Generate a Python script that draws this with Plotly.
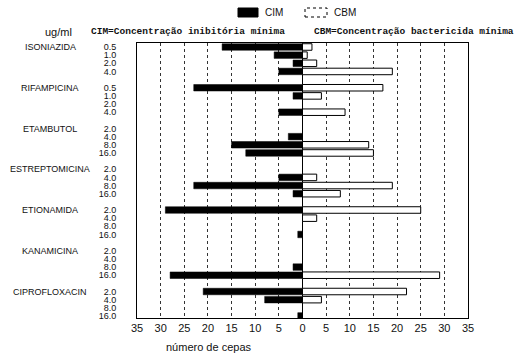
import plotly.graph_objects as go

drugs = ["ISONIAZIDA", "RIFAMPICINA", "ETAMBUTOL", "ESTREPTOMICINA",
         "ETIONAMIDA", "KANAMICINA", "CIPROFLOXACIN"]
concentrations = [
    ["0.5", "1.0", "2.0", "4.0"],
    ["0.5", "1.0", "2.0", "4.0"],
    ["2.0", "4.0", "8.0", "16.0"],
    ["2.0", "4.0", "8.0", "16.0"],
    ["2.0", "4.0", "8.0", "16.0"],
    ["2.0", "4.0", "8.0", "16.0"],
    ["2.0", "4.0", "8.0", "16.0"],
]
cim = [17, 6, 2, 5,
       23, 2, 0, 5,
       0, 3, 15, 12,
       0, 5, 23, 2,
       29, 0, 0, 1,
       0, 0, 2, 28,
       21, 8, 0, 1]
cbm = [2, 1, 3, 19,
       17, 4, 0, 9,
       0, 0, 14, 15,
       0, 3, 19, 8,
       25, 3, 0, 0,
       0, 0, 0, 29,
       22, 4, 0, 0]
x_ticks = [-35, -30, -25, -20, -15, -10, -5, 0, 5, 10, 15, 20, 25, 30, 35]

# layout geometry (pixels)
W, H = 522, 356
L, R, T, B = 137, 54, 43, 38
pw, ph = W - L - R, H - T - B


def px(x):
    return (x - L) / pw


def py(y):
    return (H - B - y) / ph


ypos = []
ylabels = []
for g, concs in enumerate(concentrations):
    for r, c in enumerate(concs):
        ypos.append(g * 5 + r)
        ylabels.append(c)

fig = go.Figure()
fig.add_trace(go.Bar(
    y=ypos, x=[-v for v in cim], orientation="h", name="CIM",
    marker=dict(color="black", line=dict(color="black", width=0.5)),
    width=0.8, showlegend=False,
))
fig.add_trace(go.Bar(
    y=ypos, x=cbm, orientation="h", name="CBM",
    marker=dict(color="white", line=dict(color="black", width=1)),
    width=0.8, showlegend=False,
))

annotations = []
for g, name in enumerate(drugs):
    annotations.append(dict(
        x=px(50), xref="paper", y=g * 5, yref="y", text=name,
        showarrow=False, xanchor="center", yanchor="middle",
        font=dict(family="Liberation Sans", size=9, color="#111"),
    ))

mono = dict(family="Liberation Mono", size=9.5, color="#111")
annotations += [
    dict(x=px(43), y=py(32), xref="paper", yref="paper", text="ug/ml",
         showarrow=False, xanchor="left", yanchor="middle",
         font=dict(family="Liberation Sans", size=11, color="#111")),
    dict(x=px(89), y=py(32), xref="paper", yref="paper",
         text="<b>CIM=Concentração inibitória mínima</b>",
         showarrow=False, xanchor="left", yanchor="middle", font=mono),
    dict(x=px(312), y=py(32), xref="paper", yref="paper",
         text="<b>CBM=Concentração bactericida mínima</b>",
         showarrow=False, xanchor="left", yanchor="middle", font=mono),
    dict(x=px(263), y=py(12.5), xref="paper", yref="paper", text="CIM",
         showarrow=False, xanchor="left", yanchor="middle",
         font=dict(family="Liberation Sans", size=10, color="#111")),
    dict(x=px(332), y=py(12.5), xref="paper", yref="paper", text="CBM",
         showarrow=False, xanchor="left", yanchor="middle",
         font=dict(family="Liberation Sans", size=10, color="#111")),
    dict(x=px(208), y=py(347), xref="paper", yref="paper",
         text="número de cepas", showarrow=False,
         xanchor="center", yanchor="middle",
         font=dict(family="Liberation Sans", size=11, color="#111")),
]

shapes = [
    dict(type="rect", xref="paper", yref="paper",
         x0=px(238), x1=px(258), y0=py(17), y1=py(8),
         fillcolor="black", line=dict(color="black", width=1)),
    dict(type="rect", xref="paper", yref="paper",
         x0=px(305), x1=px(327), y0=py(17), y1=py(8),
         fillcolor="white", line=dict(color="black", width=1, dash="dot")),
]

fig.update_layout(
    width=W, height=H,
    margin=dict(l=L, r=R, t=T, b=B),
    paper_bgcolor="white", plot_bgcolor="white",
    barmode="overlay", bargap=0,
    annotations=annotations, shapes=shapes,
    font=dict(family="Liberation Sans", color="#111"),
    hovermode=False,
)
fig.update_xaxes(
    range=[-35, 35], tickvals=x_ticks, ticktext=[str(abs(v)) for v in x_ticks],
    showgrid=True, gridcolor="#333", griddash="dot", gridwidth=1,
    zeroline=True, zerolinecolor="black", zerolinewidth=1.5,
    showline=True, linecolor="black", linewidth=1, mirror=True,
    ticks="", tickfont=dict(size=11, family="Liberation Sans"),
)
fig.update_yaxes(
    range=[33.25, -0.49], tickvals=ypos, ticktext=ylabels,
    showgrid=False, zeroline=False,
    showline=True, linecolor="black", linewidth=1, mirror=True,
    ticks="", ticklabelstandoff=18,
    tickfont=dict(size=9, family="Liberation Sans"),
)

fig.write_html(
    "out.html",
    config={"displayModeBar": False, "staticPlot": True},
    post_script="document.body.style.margin='0';document.body.style.padding='0';",
)
